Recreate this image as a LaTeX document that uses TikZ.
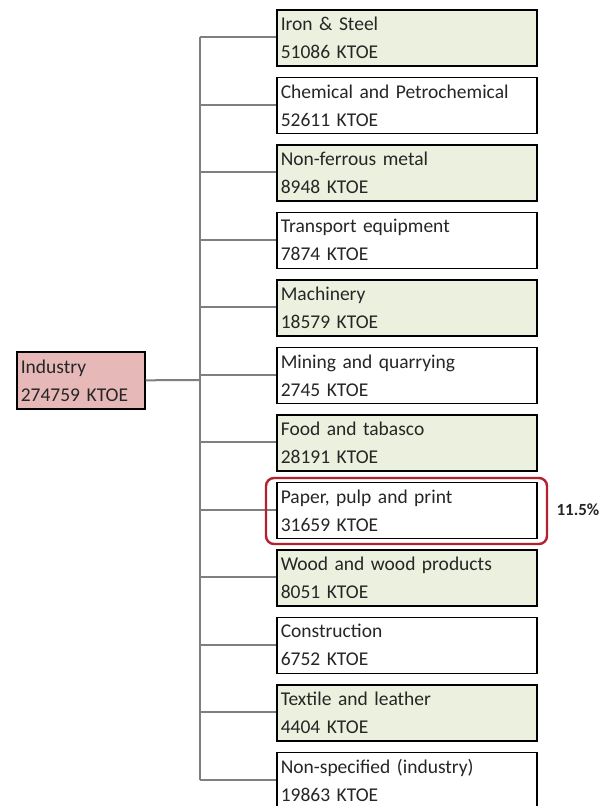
\documentclass[tikz,border=0pt]{standalone}
\usepackage{fontspec}
\setmainfont{Carlito}
\definecolor{boxgreen}{HTML}{EBF1DE}
\definecolor{boxpink}{HTML}{E6B9B8}
\definecolor{hlred}{HTML}{B5202E}
\definecolor{linegray}{HTML}{7F7F7F}
\definecolor{txt}{HTML}{262626}
\tikzset{
  cat/.style={draw=black, line width=1.6pt, anchor=north west, minimum width=260pt, minimum height=56pt,
    text width=252pt, inner sep=0pt, align=left, font=\fontsize{19.5}{28}\selectfont, text=txt},
  gcat/.style={cat, fill=boxgreen},
  wcat/.style={cat, fill=white},
  conn/.style={draw=linegray, line width=2pt},
}
\begin{document}
\begin{tikzpicture}[x=1pt,y=-1pt]
\clip (0,0) rectangle (614,806);
\fill[white] (0,0) rectangle (614,806);
\coordinate (top) at (200,37);
\coordinate (bot) at (200,780);
\draw[conn] (top) -- (bot);
\node[draw=black, line width=1.6pt, fill=boxpink, anchor=north west, minimum width=128pt, minimum height=57pt,
  text width=120pt, inner sep=0pt, align=left, font=\fontsize{19.5}{28}\selectfont, text=txt] (ind) at (16,351) {Industry\\274759 KTOE};
\coordinate (jn) at (200,380);
\draw[conn] (ind.east) -- (jn);
\foreach \i/\s/\t/\v in {0/gcat/Iron \& Steel/51086,
  1/wcat/Chemical and Petrochemical/52611,
  2/gcat/Non-ferrous metal/8948,
  3/wcat/Transport equipment/7874,
  4/gcat/Machinery/18579,
  5/wcat/Mining and quarrying/2745,
  6/gcat/Food and tabasco/28191,
  7/wcat/{Paper, pulp and print}/31659,
  8/gcat/Wood and wood products/8051,
  9/wcat/Construction/6752,
  10/gcat/Textile and leather/4404,
  11/wcat/Non-specified (industry)/19863}{
  \node[\s] (b\i) at (276,{9+\i*67.5}) {\t\\\v\ KTOE};
  \draw[conn] (200,{37+\i*67.5}) -- (b\i.west |- 0,{37+\i*67.5});
}
\draw[hlred, line width=2.4pt, rounded corners=8pt] (266,478) rectangle (547,544);
\node[anchor=west, font=\fontsize{17}{20}\selectfont\bfseries, text=txt] (pct) at (553,510) {11.5\%};
\end{tikzpicture}
\end{document}
